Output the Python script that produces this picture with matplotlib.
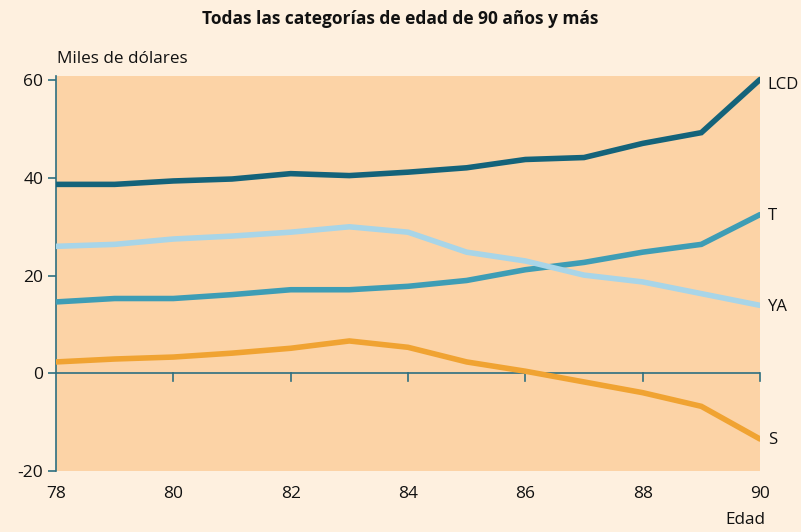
import matplotlib
matplotlib.use('Agg')
import matplotlib.pyplot as plt

plt.rcParams['font.family'] = ['Open Sans', 'DejaVu Sans']
plt.rcParams['axes.unicode_minus'] = False

ages = [78, 79, 80, 81, 82, 83, 84, 85, 86, 87, 88, 89, 90]
lcd = [38.7, 38.7, 39.4, 39.8, 40.9, 40.5, 41.2, 42.1, 43.8, 44.2, 47.1, 49.3, 60.2]
t = [14.6, 15.3, 15.3, 16.1, 17.1, 17.1, 17.8, 19.0, 21.2, 22.7, 24.8, 26.4, 32.5]
ya = [26.0, 26.4, 27.5, 28.1, 28.9, 30.0, 28.9, 24.8, 23.0, 20.1, 18.7, 16.3, 13.9]
s = [2.3, 2.9, 3.3, 4.1, 5.1, 6.6, 5.3, 2.3, 0.4, -1.8, -4.0, -6.8, -13.5]

series = [
    ('LCD', lcd, '#14637a'),
    ('T', t, '#3e9db5'),
    ('YA', ya, '#a8d5e8'),
    ('S', s, '#f0a332'),
]
axis_col = '#2e6f80'

fig = plt.figure(figsize=(8.01, 5.32), dpi=100, facecolor='#fef0df')
ax = fig.add_axes([0.0699, 0.1152, 0.8789, 0.7418])
ax.set_facecolor('#fcd3a6')

for name, vals, col in series:
    ax.plot(ages, vals, color=col, lw=4, solid_capstyle='round', solid_joinstyle='miter', zorder=3)
    # LCD label sits a bit under its line end, like the original
    dy = -4 if name == 'LCD' else -1
    ax.annotate(name, (90, vals[-1]), xytext=(5.5, dy), textcoords='offset points',
                fontsize=12, va='center', ha='left', color='#111111', annotation_clip=False)

ax.set_xlim(78, 90)
ax.set_ylim(-20, 60.9)
ax.set_xticks([78, 80, 82, 84, 86, 88, 90])
ax.set_yticks([-20, 0, 20, 40, 60])

for sp in ['top', 'right', 'bottom']:
    ax.spines[sp].set_visible(False)
ax.spines['left'].set_color(axis_col)
ax.spines['left'].set_linewidth(1.2)
ax.axhline(0, color=axis_col, lw=1.2, zorder=2)
# ticks on the zero line
for x in [80, 82, 84, 86, 88, 90]:
    ax.plot([x, x], [0, -1.6], color=axis_col, lw=1.2, zorder=2, clip_on=False)

ax.tick_params(axis='y', colors=axis_col, labelcolor='#111111', labelsize=12.5, length=6, width=1.2, pad=3)
ax.tick_params(axis='x', length=0, labelcolor='#111111', labelsize=12.5, pad=11)

fig.text(0.5, 0.965, 'Todas las categorías de edad de 90 años y más', ha='center', va='center',
         fontsize=12.5, fontweight='bold', color='#111111')
fig.text(0.071, 0.89, 'Miles de dólares', ha='left', va='center', fontsize=12.3, color='#111111')
fig.text(0.93, 0.022, 'Edad', ha='center', va='center', fontsize=12.3, color='#111111')

fig.savefig('out.png', dpi=100, facecolor=fig.get_facecolor())
